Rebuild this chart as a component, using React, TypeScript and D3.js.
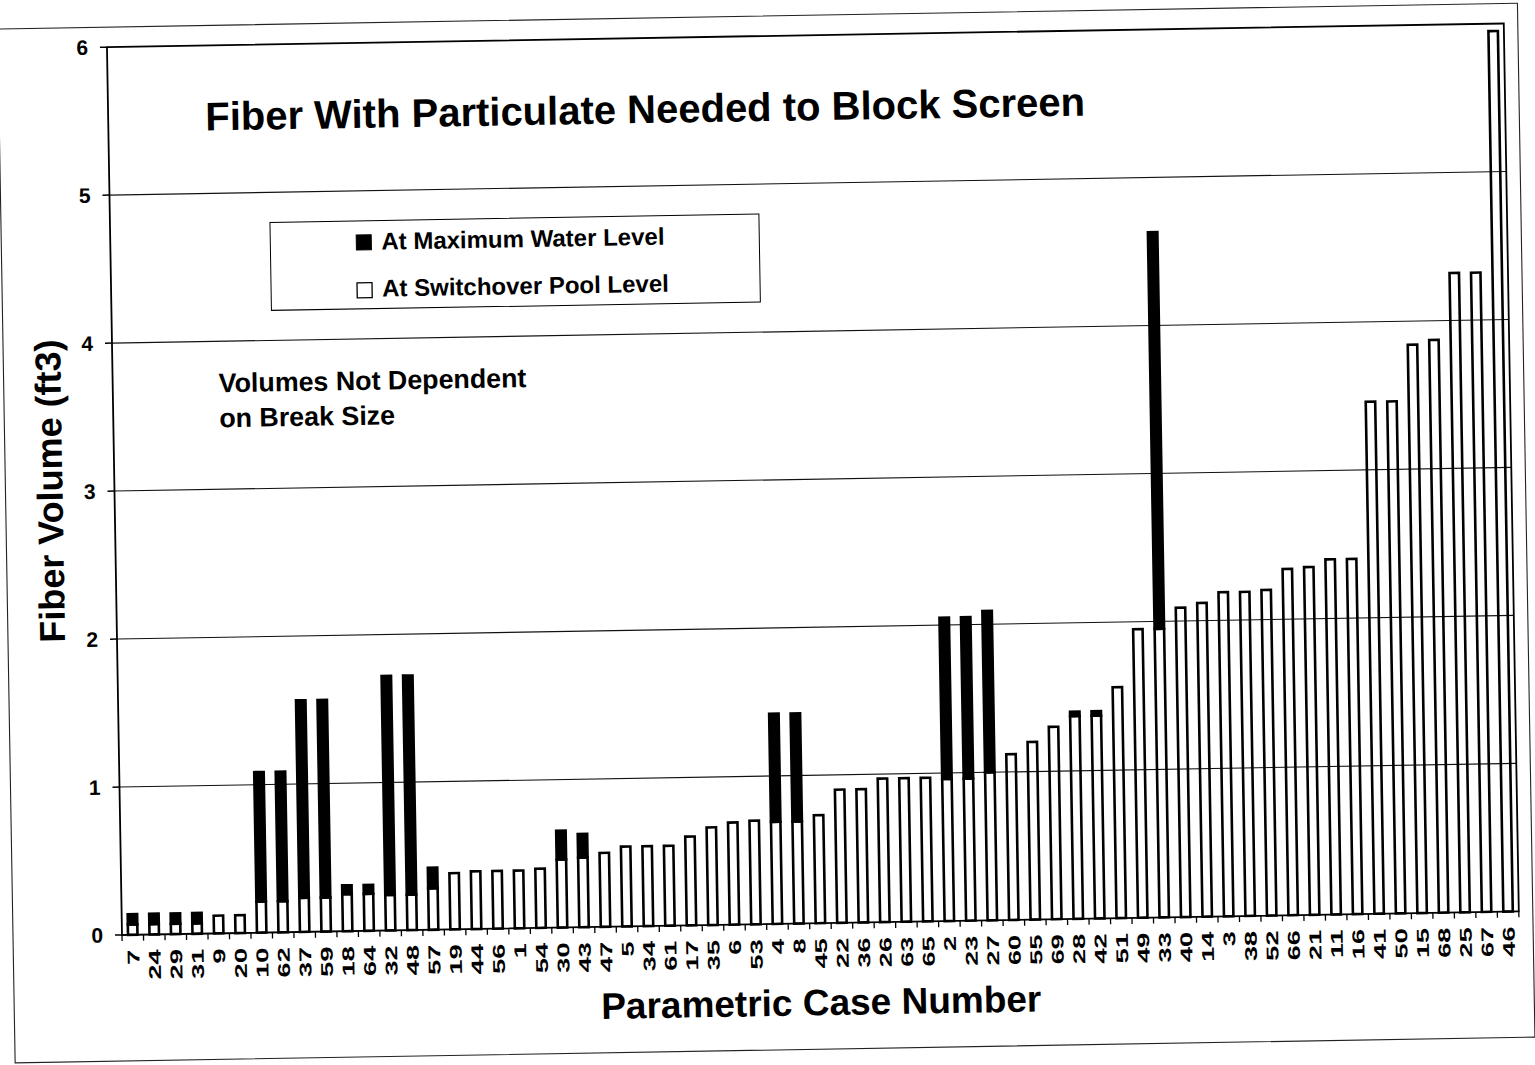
import React from "react";
import * as d3 from "d3";

const categories = ["7","24","29","31","9","20","10","62","37","59","18","64","32","48","57","19","44","56","1","54","30","43","47","5","34","61","17","35","6","53","4","8","45","22","36","26","63","65","2","23","27","60","55","69","28","42","51","49","33","40","14","3","38","52","66","21","11","16","41","50","15","68","25","67","46"];

// Fiber volume at switchover pool level (white part)
const switchoverLevel = [0.07,0.07,0.07,0.07,0.12,0.12,0.21,0.21,0.23,0.23,0.25,0.25,0.24,0.24,0.28,0.38,0.39,0.39,0.39,0.40,0.46,0.47,0.50,0.54,0.54,0.54,0.60,0.66,0.69,0.70,0.69,0.69,0.73,0.90,0.90,0.97,0.97,0.97,0.96,0.96,1.00,1.12,1.20,1.30,1.37,1.37,1.56,1.95,1.95,2.09,2.12,2.19,2.19,2.20,2.34,2.35,2.40,2.40,3.46,3.46,3.84,3.87,4.32,4.32,5.95];

// Fiber volume at maximum water level (top of black part)
const maximumLevel = [0.14,0.14,0.14,0.14,0.12,0.12,1.085,1.085,1.565,1.565,0.31,0.31,1.72,1.72,0.42,0.38,0.39,0.39,0.39,0.40,0.655,0.63,0.50,0.54,0.54,0.54,0.60,0.66,0.69,0.70,1.42,1.42,0.73,0.90,0.90,0.97,0.97,0.97,2.05,2.05,2.09,1.12,1.20,1.30,1.40,1.40,1.56,1.95,4.63,2.09,2.12,2.19,2.19,2.20,2.34,2.35,2.40,2.40,3.46,3.46,3.84,3.87,4.32,4.32,5.95];

const yTicks = [0, 1, 2, 3, 4, 5, 6];
const gridValues = [1, 2, 3, 4, 5];

const FONT = "'Liberation Sans', Arial, Helvetica, sans-serif";

export default function App() {
  const W = 1535, H = 1065;
  const left = 122, right = 1519, top = 47, bottom = 935;
  const x = d3.scaleBand<string>().domain(categories).range([left, right]).paddingInner(0.56).paddingOuter(0.28);
  const y = d3.scaleLinear().domain([0, 6]).range([bottom, top]);
  const step = x.step();
  const bw = x.bandwidth();
  const sw = 2.6;

  return (
    <svg width={W} height={H} style={{ position: "absolute", left: 0, top: 0, display: "block", background: "#fff" }} fontFamily={FONT}>
      <rect x={0} y={0} width={W} height={H} fill="#fff" />
      <g transform={`rotate(-0.97 ${left} ${bottom})`}>
        {/* outer frame */}
        <rect x={13} y={27} width={1520} height={1034} fill="none" stroke="#222" strokeWidth={1.1} />
        {/* gridlines */}
        {gridValues.map((v) => (
          <line key={"g" + v} x1={left} x2={right} y1={y(v)} y2={y(v)} stroke="#111" strokeWidth={1.1} />
        ))}
        {/* bars */}
        {categories.map((c, i) => {
          const bx = x(c)!;
          const s = switchoverLevel[i];
          const m = maximumLevel[i];
          return (
            <g key={"b" + c}>
              <rect x={bx} y={y(s)} width={bw} height={y(0) - y(s)} fill="none" stroke="#000" strokeWidth={sw} />
              {m > s + 0.001 && (
                <rect x={bx} y={y(m)} width={bw} height={y(s) - y(m)} fill="#000" stroke="#000" strokeWidth={sw} />
              )}
            </g>
          );
        })}
        {/* plot frame */}
        <rect x={left} y={top} width={right - left} height={bottom - top} fill="none" stroke="#000" strokeWidth={1.8} />
        {/* y ticks */}
        {yTicks.map((v) => (
          <g key={"yt" + v}>
            <line x1={left - 7} x2={left} y1={y(v)} y2={y(v)} stroke="#000" strokeWidth={1.5} />
            <text x={103} y={y(v)} dy="0.35em" textAnchor="end" fontSize={21} fontWeight="bold">{v}</text>
          </g>
        ))}
        {/* x ticks */}
        {d3.range(categories.length + 1).map((i) => (
          <line key={"xt" + i} x1={left + i * step} x2={left + i * step} y1={bottom} y2={bottom + 6} stroke="#000" strokeWidth={1.3} />
        ))}
        {categories.map((c) => {
          const cx = x(c)! + bw / 2;
          return (
            <text key={"xl" + c} transform={`translate(${cx},950) rotate(-90) scale(1.6,1)`} textAnchor="end" dy="0.36em" fontSize={17} fontWeight="bold">{c}</text>
          );
        })}
        {/* title */}
        <text x={659} y={132} textAnchor="middle" fontSize={40} fontWeight="bold">Fiber With Particulate Needed to Block Screen</text>
        {/* legend */}
        <rect x={282} y={225} width={489} height={88} fill="#fff" stroke="#000" strokeWidth={1} />
        <rect x={368} y={239} width={15} height={15} fill="#000" stroke="#000" strokeWidth={1} />
        <text x={393} y={254} fontSize={24} fontWeight="bold">At Maximum Water Level</text>
        <rect x={368} y={287} width={15} height={15} fill="#fff" stroke="#000" strokeWidth={1.3} />
        <text x={393} y={301} fontSize={24} fontWeight="bold">At Switchover Pool Level</text>
        {/* annotation */}
        <text x={228} y={394} fontSize={26.8} fontWeight="bold">Volumes Not Dependent</text>
        <text x={228} y={429} fontSize={26.8} fontWeight="bold">on Break Size</text>
        {/* axis titles */}
        <text transform={`translate(70,490) rotate(-90)`} textAnchor="middle" fontSize={36} fontWeight="bold">Fiber Volume (ft3)</text>
        <text x={820} y={1027} textAnchor="middle" fontSize={37} fontWeight="bold">Parametric Case Number</text>
      </g>
    </svg>
  );
}
